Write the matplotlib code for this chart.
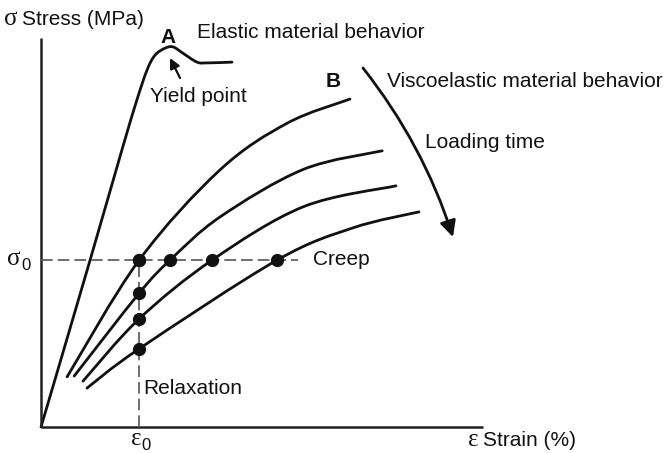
import matplotlib
matplotlib.use("Agg")
import matplotlib.pyplot as plt
import numpy as np
from matplotlib.path import Path
from matplotlib.patches import FancyArrowPatch, PathPatch

plt.rcParams['font.family'] = ['Liberation Sans', 'DejaVu Sans']

# elastic curve (stress vs strain, arbitrary units, axes run 0..10)
elastic_x = [0, 1.11, 1.83, 2.17, 2.40, 2.58, 2.81, 2.99, 3.21, 3.53, 3.76, 4.32]
elastic_y = [0, 4.29, 7.12, 8.41, 9.18, 9.56, 9.74, 9.77, 9.61, 9.38, 9.36, 9.38]

# viscoelastic curves, shortest loading time first
visco_x = [
    [0.59, 2.22, 4.05, 5.57, 6.99],
    [0.75, 2.22, 2.92, 4.05, 5.93, 7.72],
    [0.95, 2.22, 3.87, 5.93, 8.03],
    [1.04, 2.22, 5.34, 7.06, 8.55],
]
visco_y = [
    [1.29, 4.29, 6.61, 7.81, 8.43],
    [1.31, 3.44, 4.29, 5.40, 6.62, 7.10],
    [1.18, 2.78, 4.29, 5.66, 6.20],
    [1.00, 2.01, 4.29, 5.12, 5.53],
]

sigma0 = 4.29
eps0 = 2.22
creep_x = [2.22, 2.92, 3.87, 5.34]         # strain reached at sigma0
relax_y = [4.29, 3.44, 2.78, 2.01]         # stress left at eps0
creep_end = 5.81


def smooth_path(xs, ys):
    # cubic bezier through the points (catmull-rom tangents)
    p = np.column_stack([xs, ys]).astype(float)
    n = len(p)
    verts = [p[0]]
    codes = [Path.MOVETO]
    for i in range(n - 1):
        p0 = p[i - 1] if i > 0 else p[i]
        p1, p2 = p[i], p[i + 1]
        p3 = p[i + 2] if i + 2 < n else p[i + 1]
        verts += [p1 + (p2 - p0) / 6, p2 - (p3 - p1) / 6, p2]
        codes += [Path.CURVE4] * 3
    return Path(verts, codes)


def draw_curve(xs, ys):
    ax.add_patch(PathPatch(smooth_path(xs, ys), fill=False, edgecolor='#111111',
                           lw=2, capstyle='round', joinstyle='round'))


fig = plt.figure(figsize=(6.7, 4.53), dpi=100)
ax = fig.add_axes([0, 0, 1, 1])
ax.set_xlim(-0.928, 14.231)
ax.set_ylim(-0.668, 10.977)
ax.axis('off')

# axes lines
ax.plot([0, 10], [0, 0], color='#222222', lw=1.8, solid_capstyle='butt')
ax.plot([0, 0], [0, 10], color='#222222', lw=1.8, solid_capstyle='butt')

# dashed guides
dash = (0, (7, 3))
ax.plot([0, creep_end], [sigma0, sigma0], color='#555555', lw=1.2, ls=dash)
ax.plot([eps0, eps0], [0, sigma0], color='#555555', lw=1.2, ls=dash)

draw_curve(elastic_x, elastic_y)
for xs, ys in zip(visco_x, visco_y):
    draw_curve(xs, ys)

ax.plot(creep_x, [sigma0] * len(creep_x), 'o', color='#111111', ms=8.5)
ax.plot([eps0] * len(relax_y), relax_y, 'o', color='#111111', ms=8.5)

fs = 15
gfs = 18
# axis titles
ax.text(-0.83, 10.334, 'σ', family='Liberation Serif', fontsize=gfs, color='#111111')
ax.text(-0.42, 10.334, 'Stress (MPa)', fontsize=fs, color='#111111')
ax.text(9.66, -0.50, 'ε', family='Liberation Serif', fontsize=gfs, color='#111111')
ax.text(10.0, -0.50, 'Strain (%)', fontsize=fs, color='#111111')

# sigma0 / eps0 marks
ax.text(-0.76, 4.165, 'σ', family='Liberation Serif', fontsize=gfs, color='#111111')
ax.text(-0.45, 4.03, '0', fontsize=12, color='#111111')
ax.text(2.03, -0.46, 'ε', family='Liberation Serif', fontsize=gfs, color='#111111')
ax.text(2.27, -0.58, '0', fontsize=12, color='#111111')

# annotations
ax.text(2.873, 9.871, 'A', fontsize=fs, fontweight='bold', ha='center', color='#111111')
ax.text(3.529, 10.0, 'Elastic material behavior', fontsize=fs, color='#111111')
ax.text(2.466, 8.355, 'Yield point', fontsize=fs, color='#111111')
ax.annotate('', xy=(2.919, 9.486), xytext=(3.145, 8.972),
            arrowprops=dict(arrowstyle='-|>', color='#111111', lw=1.6, mutation_scale=15,
                            shrinkA=0, shrinkB=0))
ax.text(6.606, 8.74, 'B', fontsize=fs, fontweight='bold', ha='center', color='#111111')
ax.text(7.828, 8.74, 'Viscoelastic material behavior', fontsize=fs, color='#111111')
ax.text(8.688, 7.172, 'Loading time', fontsize=fs, color='#111111')
ax.text(6.154, 4.165, 'Creep', fontsize=fs, color='#111111')
ax.text(2.308, 0.848, 'Relaxation', fontsize=fs, color='#111111')

# loading time arrow
arrow = FancyArrowPatch((7.285, 9.229), (9.321, 4.884), arrowstyle='-|>',
                        connectionstyle='arc3,rad=-0.09', mutation_scale=24,
                        lw=2, color='#111111', shrinkA=0, shrinkB=0)
ax.add_patch(arrow)

fig.savefig('out.png', dpi=100)
